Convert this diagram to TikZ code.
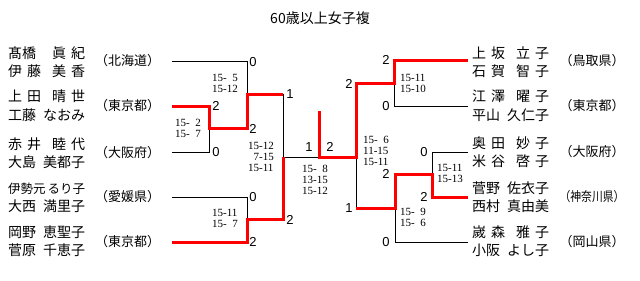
\documentclass[tikz,border=0pt]{standalone}
\usepackage{fontspec}
\setmainfont{Liberation Serif}
\newfontfamily\jpfont{Noto Sans CJK JP}
\newfontfamily\numfont{Liberation Sans}
\usetikzlibrary{positioning}

%% name helpers
\newcommand{\spr}[2]{\makebox[33pt][s]{#1\hfil #2}}
\newcommand{\nm}[2]{\makebox[77pt]{#1\hfill #2}}

\begin{document}
\begin{tikzpicture}[x=1pt, y=-1pt,
    ln/.style={line width=1pt, black},
    win/.style={line width=3pt, red, line join=miter},
    pts/.style={font=\numfont\fontsize{13}{13}\selectfont, inner sep=0pt},
    gms/.style={font=\fontsize{11}{11}\selectfont, align=left,
                inner sep=0pt, anchor=north west},
    nms/.style={font=\jpfont\fontsize{14}{18.5}\selectfont, align=left,
                inner sep=0pt, anchor=west},
    prf/.style={font=\jpfont\fontsize{13}{13}\selectfont, inner sep=0pt},
  ]
  \useasboundingbox (0,0) rectangle (640,281);

  %% Title
  \node[font=\jpfont\fontsize{14}{14}\selectfont] (title) at (320,18.5) {60歳以上女子複};

  %% Left teams
  \node[nms] (n1) at (8,62) {\nm{髙橋}{\spr{眞}{紀}}\\\nm{\spr{伊}{藤}}{\spr{美}{香}}};
  \node[nms] (n2) at (8,105.5) {\nm{\spr{上}{田}}{\spr{晴}{世}}\\\nm{工藤}{なおみ}};
  \node[nms] (n3) at (8,153) {\nm{\spr{赤}{井}}{\spr{睦}{代}}\\\nm{大島}{美都子}};
  \node[nms] (n4) at (8,198) {{\fontsize{12.5}{12.5}\selectfont\nm{伊勢元}{るり子}}\\\nm{大西}{満里子}};
  \node[nms] (n5) at (8,241) {\nm{岡野}{恵聖子}\\\nm{菅原}{千恵子}};
  \node[prf] (p1) at (127.5,61) {（北海道）};
  \node[prf] (p2) at (127.5,106) {（東京都）};
  \node[prf] (p3) at (127.5,153) {（大阪府）};
  \node[prf] (p4) at (127.5,197) {（愛媛県）};
  \node[prf] (p5) at (127.5,242) {（東京都）};

  %% Right teams
  \node[nms] (r1) at (472,62) {\nm{\spr{上}{坂}}{\spr{立}{子}}\\\nm{\spr{石}{賀}}{\spr{智}{子}}};
  \node[nms] (r2) at (472,106) {\nm{\spr{江}{澤}}{\spr{曜}{子}}\\\nm{平山}{久仁子}};
  \node[nms] (r3) at (472,152) {\nm{\spr{奥}{田}}{\spr{妙}{子}}\\\nm{\spr{米}{谷}}{\spr{啓}{子}}};
  \node[nms] (r4) at (472,197) {\nm{菅野}{佐衣子}\\\nm{西村}{真由美}};
  \node[nms] (r5) at (472,241) {\nm{\spr{嵗}{森}}{\spr{雅}{子}}\\\nm{小阪}{よし子}};
  \node[prf] (q1) at (592,61) {（鳥取県）};
  \node[prf] (q2) at (592,106) {（東京都）};
  \node[prf] (q3) at (592,152) {（大阪府）};
  \node[prf] (q4) at (592,197) {\scalebox{0.83}[1]{（神奈川県）}};
  \node[prf] (q5) at (592,242) {（岡山県）};

  %% Bracket ends
  \coordinate (a1) at (172,61);
  \coordinate (a2) at (172,106);
  \coordinate (a3) at (172,152);
  \coordinate (a4) at (172,197);
  \coordinate (a5) at (172,242);
  \coordinate (b1) at (468,60);
  \coordinate (b2) at (468,106);
  \coordinate (b3) at (468,152);
  \coordinate (b4) at (468,197);
  \coordinate (b5) at (468,242);

  %% Match points
  \coordinate (m23) at (209,128);
  \coordinate (m123) at (247,94);
  \coordinate (m45) at (247,219);
  \coordinate (w1) at (283,94);
  \coordinate (w2) at (283,219);
  \coordinate (sL) at (283,157);
  \coordinate (top) at (319,111);
  \coordinate (fin) at (319,157);
  \coordinate (sR) at (356,157);
  \coordinate (w3) at (356,208);
  \coordinate (m12r) at (394,83);
  \coordinate (m34r) at (432,174);
  \coordinate (m345r) at (395,208);

  %% Losing lines
  \draw[ln] (a1) -| (m123);
  \draw[ln] (a3) -| (m23);
  \draw[ln] (a4) -| (m45);
  \draw[ln] (w1) |- (fin);
  \draw[ln] (b2) -| (m12r);
  \draw[ln] (b3) -| (m34r);
  \draw[ln] (b5) -| (m345r);
  \draw[ln] (sR) -- (w3);

  %% Winning lines
  \draw[win] (a2) -| (m23) -| (m123) -- (w1);
  \draw[win] (a5) -| (m45) -- (w2) -- (sL);
  \draw[win] (top) -- (fin) -- (sR) |- (m12r) |- (b1);
  \draw[win] (w3) -- (m345r) |- (m34r) |- (b4);

  %% Points, left
  \node[pts] (s1) at (253,62) {0};
  \node[pts] (s2) at (216,106) {2};
  \node[pts] (s3) at (216,152.5) {0};
  \node[pts] (s4) at (253,128.5) {2};
  \node[pts] (s5) at (290,94.5) {1};
  \node[pts] (s6) at (253,197.5) {0};
  \node[pts] (s7) at (253,242) {2};
  \node[pts] (s8) at (290,219.5) {2};
  \node[pts] (s9) at (309,147) {1};
  \node[pts] (s10) at (330,147) {2};
  %% Points, right
  \node[pts] (t1) at (386,60) {2};
  \node[pts] (t2) at (386,106) {0};
  \node[pts] (t3) at (349,84) {2};
  \node[pts] (t4) at (424,152) {0};
  \node[pts] (t5) at (424,197) {2};
  \node[pts] (t6) at (386,173.5) {2};
  \node[pts] (t7) at (386,242) {0};
  \node[pts] (t8) at (349,208) {1};

  %% Game scores
  \node[gms] (g1) at (212,74.3) {15-\hphantom{1}5\\15-12};
  \node[gms] (g2) at (175,119.3) {15-\hphantom{1}2\\15-\hphantom{1}7};
  \node[gms] (g3) at (248,142.3) {15-12\\\hphantom{1}7-15\\15-11};
  \node[gms] (g4) at (212,209.3) {15-11\\15-\hphantom{1}7};
  \node[gms] (g5) at (302,165.3) {15-\hphantom{1}8\\13-15\\15-12};
  \node[gms] (g6) at (363,136.3) {15-\hphantom{1}6\\11-15\\15-11};
  \node[gms] (g7) at (400,74.3) {15-11\\15-10};
  \node[gms] (g8) at (437,164.3) {15-11\\15-13};
  \node[gms] (g9) at (400,208.3) {15-\hphantom{1}9\\15-\hphantom{1}6};
\end{tikzpicture}
\end{document}
